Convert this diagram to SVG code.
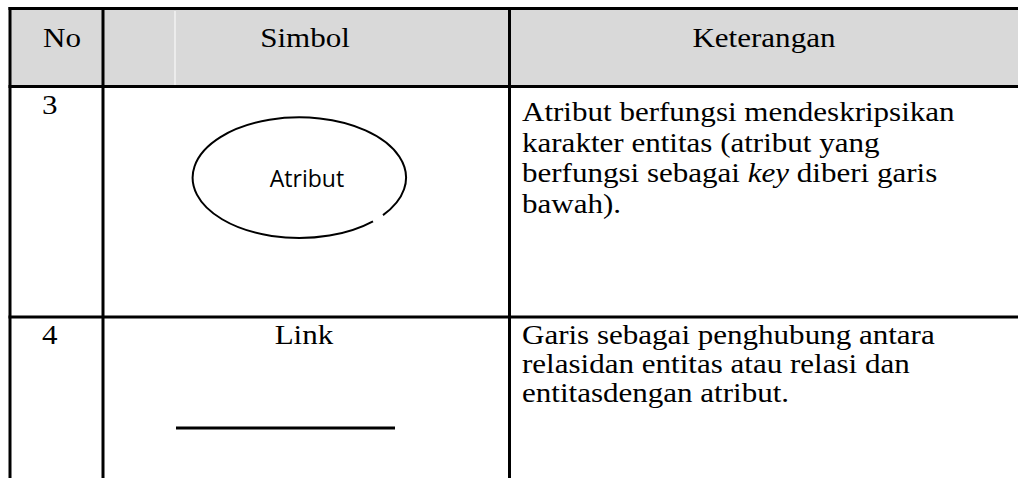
<svg xmlns="http://www.w3.org/2000/svg" width="1018" height="478" viewBox="0 0 1018 478">
  <style>
    .grid { stroke: #000; stroke-width: 3; fill: none; }
    .t { font-family: "Liberation Serif", "Times New Roman", serif; font-size: 27px; fill: #000; }
    .c { text-anchor: middle; }
    .shape { font-family: "Open Sans", "Noto Sans", sans-serif; font-size: 23px; fill: #000; text-anchor: middle; }
  </style>
  <rect x="0" y="0" width="1018" height="478" fill="#fff"/>

  <g id="header">
    <rect x="10" y="8.5" width="1010" height="78" fill="#d9d9d9"/>
    <line x1="175" y1="11" x2="175" y2="85" stroke="#fff" stroke-width="1"/>
    <g transform="scale(1.15 1)">
      <text class="t" x="37.4" y="47">No</text>
      <text class="t c" x="265.2" y="47">Simbol</text>
      <text class="t c" x="664.3" y="47">Keterangan</text>
    </g>
  </g>

  <g id="table-grid" class="grid">
    <line x1="8.5" y1="8.5" x2="1018" y2="8.5"/>
    <line x1="8.5" y1="86.5" x2="1018" y2="86.5"/>
    <line x1="8.5" y1="317" x2="1018" y2="317"/>
    <line x1="10" y1="7" x2="10" y2="478"/>
    <line x1="103" y1="7" x2="103" y2="478"/>
    <line x1="509.5" y1="7" x2="509.5" y2="478"/>
  </g>

  <g id="row-3">
    <g id="symbol-atribut">
      <path d="M 383 215.1 A 106.7 60.3 0 1 0 373 221.3" fill="none" stroke="#000" stroke-width="2"/>
      <text class="shape" x="307" y="187">Atribut</text>
    </g>
    <g transform="scale(1.15 1)">
      <text class="t" x="36.5" y="114">3</text>
      <text class="t" x="453.9" y="121">Atribut berfungsi mendeskripsikan</text>
      <text class="t" x="453.9" y="152">karakter entitas (atribut yang</text>
      <text class="t" x="453.9" y="182">berfungsi sebagai <tspan font-style="italic">key</tspan> diberi garis</text>
      <text class="t" x="453.9" y="213">bawah).</text>
    </g>
  </g>

  <g id="row-4">
    <g id="symbol-link">
      <line x1="176" y1="428" x2="395" y2="428" stroke="#000" stroke-width="3"/>
    </g>
    <g transform="scale(1.15 1)">
      <text class="t" x="36.5" y="344">4</text>
      <text class="t c" x="264.3" y="344">Link</text>
      <text class="t" x="453.9" y="344">Garis sebagai penghubung antara</text>
      <text class="t" x="453.9" y="373">relasidan entitas atau relasi dan</text>
      <text class="t" x="453.9" y="402">entitasdengan atribut.</text>
    </g>
  </g>
</svg>
